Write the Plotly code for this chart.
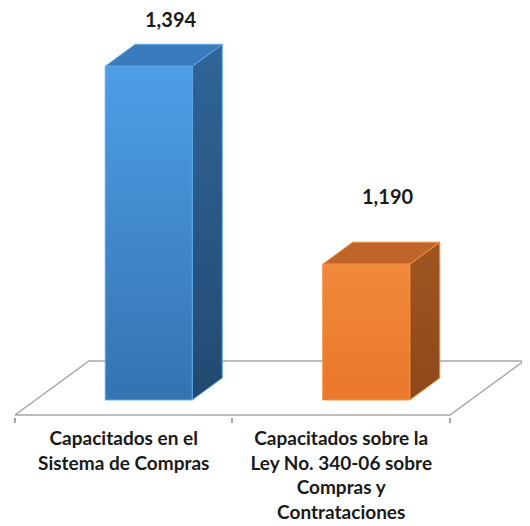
import plotly.graph_objects as go

# data
categories = ["Capacitados en el<br>Sistema de Compras",
              "Capacitados sobre la<br>Ley No. 340-06 sobre<br>Compras y<br>Contrataciones"]
values = [1394, 1190]
value_labels = ["1,394", "1,190"]
axis_min = 1050

# 3D look (projection offsets in axis units)
FLOOR_DX, FLOOR_DY = 0.34, 55.7
BAR_SHIFT, BAR_BASE_UP = 0.115, 15.5
BAR_W = 0.40
BAR_DX, BAR_DY = 0.138, 22.7
LABEL_UP, LABEL_MAX = 86, 1458

styles = [
    dict(front=("#3473b1", "#4e9ee6"), side=("#224a70", "#2f6599"), top="#3a7abd", edge="#5ea8ec"),
    dict(front=("#e9782b", "#f0883a"), side=("#8f481b", "#a05422"), top="#c0652a", edge="#f3913f"),
]

fig = go.Figure()

# floor
fx = [-0.5, 1.5, 1.5 + FLOOR_DX, -0.5 + FLOOR_DX, -0.5]
fy = [axis_min, axis_min, axis_min + FLOOR_DY, axis_min + FLOOR_DY, axis_min]
fig.add_trace(go.Scatter(x=fx, y=fy, mode="lines", fill="toself", fillcolor="white",
                         line=dict(color="#a6a6a6", width=1.5), hoverinfo="skip"))

for i, (v, st) in enumerate(zip(values, styles)):
    x0 = i + BAR_SHIFT - BAR_W / 2
    x1 = x0 + BAR_W
    yb = axis_min + BAR_BASE_UP
    yt = v + BAR_BASE_UP
    edge = dict(color=st["edge"], width=1)
    # side face
    fig.add_trace(go.Scatter(
        x=[x1, x1, x1 + BAR_DX, x1 + BAR_DX, x1],
        y=[yb, yt, yt + BAR_DY, yb + BAR_DY, yb],
        mode="lines", fill="toself", line=edge, hoverinfo="skip",
        fillgradient=dict(type="vertical", colorscale=[[0, st["side"][0]], [1, st["side"][1]]])))
    # top face
    fig.add_trace(go.Scatter(
        x=[x0, x1, x1 + BAR_DX, x0 + BAR_DX, x0],
        y=[yt, yt, yt + BAR_DY, yt + BAR_DY, yt],
        mode="lines", fill="toself", fillcolor=st["top"], line=edge, hoverinfo="skip"))
    # front face
    fig.add_trace(go.Scatter(
        x=[x0, x1, x1, x0, x0],
        y=[yb, yb, yt, yt, yb],
        mode="lines", fill="toself", line=edge, hoverinfo="skip",
        fillgradient=dict(type="vertical", colorscale=[[0, st["front"][0]], [1, st["front"][1]]])))
    # value label (kept inside the chart area like Excel does)
    fig.add_annotation(x=x0 + BAR_W / 2 + BAR_DX * 0.72, y=min(v + LABEL_UP, LABEL_MAX),
                       text=value_labels[i], showarrow=False, yanchor="middle",
                       font=dict(family="Lato", size=20, color="#1a1a1a", weight="bold"))

fig.update_layout(
    width=530, height=526,
    margin=dict(l=0, r=0, t=0, b=117),
    paper_bgcolor="white", plot_bgcolor="white",
    showlegend=False,
    xaxis=dict(range=[-0.532, 1.9046], showgrid=False, zeroline=False, showline=False,
               tickvals=[0, 1], ticktext=categories, ticks="", ticklabelstandoff=8,
               tickfont=dict(family="Lato", size=19, color="#1a1a1a", weight="bold"),
               minor=dict(ticks="outside", tick0=-0.5, dtick=1, ticklen=5,
                          tickcolor="#a6a6a6", tickwidth=1.5, showgrid=False)),
    yaxis=dict(range=[1047.94, 1469.6], visible=False),
)

fig.write_html("out.html")
